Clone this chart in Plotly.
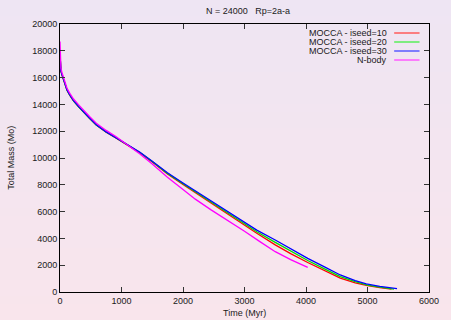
import plotly.graph_objects as go

# ---- data ----
time_mocca10 = [0, 5, 15, 30, 50, 80, 114, 160, 220, 300, 378, 480, 590, 750, 908, 1100, 1300, 1500,
                1747, 2000, 2300, 2600, 2917, 3200, 3500, 3750, 4028, 4300, 4557, 4800, 5000, 5200, 5390]
mass_mocca10 = [17800, 16900, 16500, 16230, 15960, 15400, 15060, 14680, 14260, 13830, 13430, 12960, 12460,
                11930, 11500, 10930, 10380, 9700, 8800, 8020, 7100, 6180, 5220, 4380, 3520, 2860, 2200,
                1580, 1030, 680, 470, 330, 220]

time_mocca20 = [0, 5, 15, 30, 50, 80, 114, 160, 220, 300, 378, 480, 590, 750, 908, 1100, 1300, 1500,
                1747, 2000, 2300, 2600, 2917, 3200, 3500, 3750, 4028, 4300, 4557, 4800, 5000, 5200, 5430]
mass_mocca20 = [17800, 16900, 16500, 16240, 15970, 15410, 15070, 14690, 14270, 13840, 13440, 12970, 12470,
                11940, 11510, 10950, 10410, 9740, 8850, 8080, 7170, 6260, 5320, 4500, 3700, 3030, 2350,
                1720, 1150, 770, 520, 360, 220]

time_mocca30 = [0, 5, 15, 30, 50, 80, 114, 160, 220, 300, 378, 480, 590, 750, 908, 1100, 1300, 1500,
                1747, 2000, 2300, 2600, 2917, 3200, 3500, 3750, 4028, 4300, 4557, 4800, 4980, 5200, 5480]
mass_mocca30 = [17800, 16900, 16500, 16250, 15980, 15420, 15080, 14700, 14280, 13850, 13450, 12980, 12480,
                11950, 11520, 10960, 10430, 9760, 8900, 8130, 7240, 6340, 5420, 4620, 3880, 3230, 2510,
                1880, 1270, 850, 600, 420, 250]

time_nbody = [0, 5, 15, 30, 50, 80, 114, 160, 220, 300, 378, 480, 590, 750, 908, 1100, 1300, 1500,
              1747, 2000, 2200, 2450, 2706, 3000, 3250, 3500, 3750, 4028]
mass_nbody = [18700, 17400, 16700, 16400, 16100, 15550, 15200, 14820, 14400, 13980, 13580, 13100, 12600,
              12060, 11600, 10980, 10300, 9560, 8560, 7650, 6930, 6150, 5420, 4530, 3760, 3010, 2420, 1840]

series_names = ["MOCCA - iseed=10", "MOCCA - iseed=20", "MOCCA - iseed=30", "N-body"]
series_colors = ["#ff0000", "#00dd00", "#0000ff", "#ff00ff"]
legend_colors = ["#ff5a5a", "#5aee5a", "#5a5aff", "#ff5aff"]

x_ticks = [0, 1000, 2000, 3000, 4000, 5000, 6000]
y_ticks = [0, 2000, 4000, 6000, 8000, 10000, 12000, 14000, 16000, 18000, 20000]

title_text = "N = 24000   Rp=2a-a"
x_title = "Time (Myr)"
y_title = "Total Mass (Mo)"

# ---- figure ----
W, H = 451, 320
L, R, T, B = 59.5, 13.3, 24, 28
PW, PH = W - L - R, H - T - B

FONT = "Liberation Sans, Arial, Helvetica, sans-serif"
TXT = "#1a1a1a"

fig = go.Figure()
series = [(time_mocca10, mass_mocca10), (time_mocca20, mass_mocca20),
          (time_mocca30, mass_mocca30), (time_nbody, mass_nbody)]
for (tx, my), name, col in zip(series, series_names, series_colors):
    fig.add_trace(go.Scatter(x=tx, y=my, mode="lines", name=name,
                             line=dict(color=col, width=1.3), showlegend=False))

shapes = []
# background gradient (lavender top -> pink bottom)
top = (238, 229, 243)
bot = (249, 229, 236)
nb = 40
for i in range(nb):
    py0 = i * H / nb
    py1 = (i + 1) * H / nb + 0.5
    f = (i + 0.5) / nb
    c = tuple(round(top[k] + (bot[k] - top[k]) * f) for k in range(3))
    shapes.append(dict(type="rect", xref="paper", yref="paper", layer="below",
                       x0=-L / PW - 0.05, x1=1 + R / PW + 0.05,
                       y0=(H - B - py1) / PH, y1=(H - B - py0) / PH,
                       fillcolor="rgb(%d,%d,%d)" % c, line=dict(width=0)))

annotations = []
# manual legend (text right-aligned, sample line on the right)
leg_text_x = (397 - L) / PW
leg_line_x0 = (402 - L) / PW
leg_line_x1 = (428 - L) / PW
for i, (name, col) in enumerate(zip(series_names, legend_colors)):
    py = 33 + i * 9
    yp = (H - B - py) / PH
    annotations.append(dict(text=name, x=leg_text_x, y=yp, xref="paper", yref="paper",
                            xanchor="right", yanchor="middle", showarrow=False,
                            font=dict(family=FONT, size=9, color=TXT)))
    shapes.append(dict(type="line", xref="paper", yref="paper", x0=leg_line_x0, x1=leg_line_x1,
                       y0=yp, y1=yp, line=dict(color=col, width=1.5)))

annotations.append(dict(text=x_title, x=0.5, y=(H - B - 313) / PH, xref="paper", yref="paper",
                        xanchor="center", yanchor="middle", showarrow=False,
                        font=dict(family=FONT, size=9, color=TXT)))
annotations.append(dict(text=y_title, x=(9 - L) / PW, y=0.5, xref="paper", yref="paper",
                        xanchor="center", yanchor="middle", showarrow=False, textangle=-90,
                        font=dict(family=FONT, size=9, color=TXT)))

axis_common = dict(showgrid=False, zeroline=False, showline=True, linecolor="#000000",
                   linewidth=1, mirror="ticks", ticks="inside", ticklen=5, tickwidth=1,
                   tickcolor="#333333", tickfont=dict(family=FONT, size=9, color=TXT))

fig.update_layout(
    width=W, height=H,
    margin=dict(l=L, r=R, t=T, b=B, pad=0),
    paper_bgcolor="rgba(0,0,0,0)", plot_bgcolor="rgba(0,0,0,0)",
    title=dict(text=title_text, x=248 / W, xanchor="center",
               y=1 - 11 / H, yanchor="middle", font=dict(family=FONT, size=9, color=TXT)),
    xaxis=dict(range=[0, 6000], tickvals=x_ticks, ticktext=[str(v) for v in x_ticks], **axis_common),
    yaxis=dict(range=[0, 20000], tickvals=y_ticks, ticktext=[str(v) for v in y_ticks], **axis_common),
    shapes=shapes, annotations=annotations, showlegend=False,
)

fig.write_html("out.html", config={"displayModeBar": False},
               post_script="document.body.style.margin='0';document.body.style.padding='0';"
                           "document.body.style.overflow='hidden';")
